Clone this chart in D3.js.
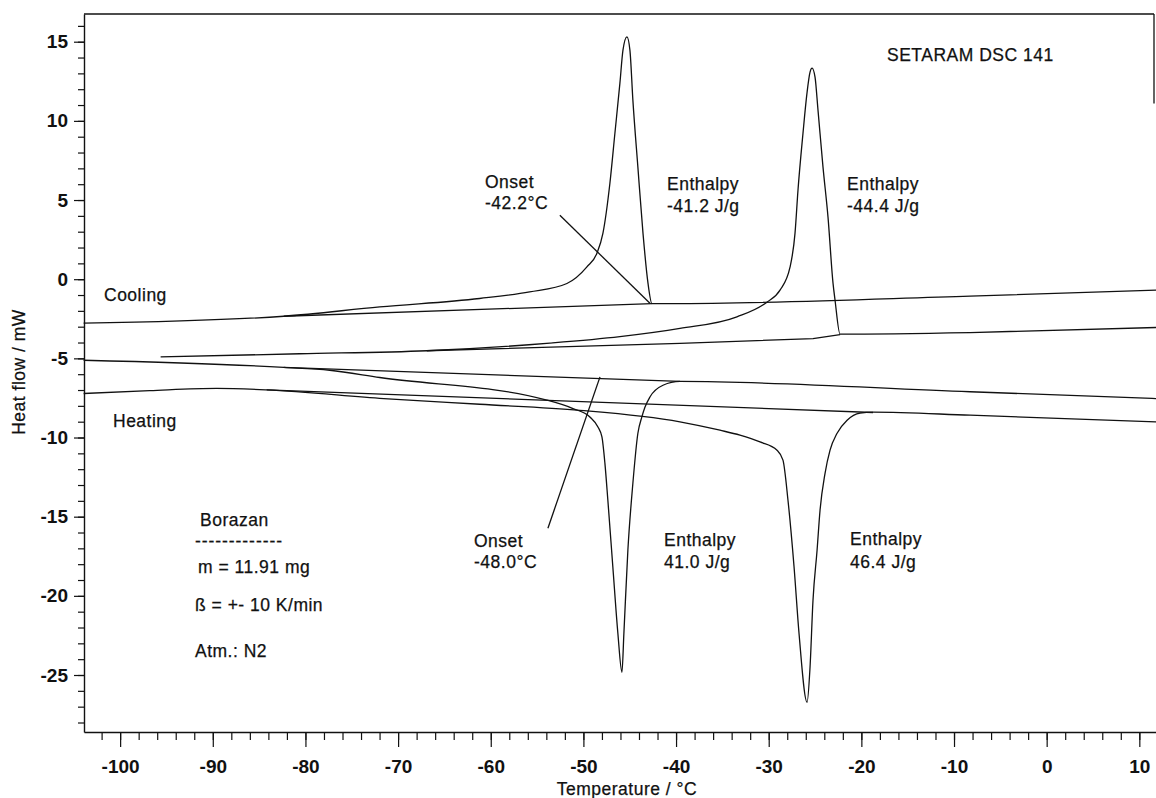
<!DOCTYPE html>
<html>
  <head>
    <meta charset="utf-8">
    <script src="https://d3js.org/d3.v7.min.js"></script>
    <style>
      body { margin: 0; background: #fff; }
      svg text { font-family: "Liberation Sans", Arial, sans-serif; fill: #111; }
      .ann { font-size: 17.5px; letter-spacing: 0.5px; stroke: #111; stroke-width: 0.25px; }
      .tick text { font-size: 19px; font-weight: bold; }
    </style>
  </head>
  <body>
    <div id="chart"></div>
    <script>
      // DSC traces: [temperature °C, heat flow mW]
      // cooling run 1 (exotherm, onset -42.2 °C)
      const coolingA = [
        [-103.94, -2.78], [-82.34, -2.34], [-71.98, -1.75], [-61.2, -1.22], [-55.8, -0.80],
        [-51.78, -0.27], [-49.62, 0.78], [-48.54, 1.64], [-47.89, 2.91], [-47.14, 6.06],
        [-46.60, 9.22], [-46.06, 12.38], [-45.73, 14.47], [-45.30, 15.31], [-44.98, 14.47],
        [-44.66, 11.31], [-44.12, 7.08], [-43.57, 2.91], [-43.03, -0.25], [-42.60, -1.54],
        [-40.66, -1.54], [-8.26, -1.07], [11.83, -0.69]
      ]
      const baselineA = [[-82.34, -2.34], [-42.60, -1.54]]

      // cooling run 2 (exotherm near -25 °C)
      const coolingB = [
        [-95.63, -4.91], [-80.62, -4.71], [-66.90, -4.52], [-53.62, -4.04], [-46.06, -3.63],
        [-39.58, -3.11], [-33.43, -2.38], [-30.19, -1.45], [-28.78, -0.69], [-27.70, 0.76],
        [-27.16, 2.91], [-26.84, 5.62], [-26.30, 9.22], [-25.87, 11.75], [-25.54, 13.08],
        [-25.32, 13.33], [-25.00, 12.76], [-24.68, 10.68], [-24.14, 7.08], [-23.60, 3.92],
        [-23.06, -0.25], [-22.84, -1.33], [-22.30, -3.47], [-8.26, -3.37], [11.83, -3.05]
      ]
      const baselineB = [[-66.90, -4.52], [-39.58, -4.06], [-25.22, -3.75], [-22.30, -3.50]]

      // heating run 1 (endotherm, onset -48.0 °C)
      const heatingC = [
        [-103.94, -5.12], [-82.34, -5.57], [-77.38, -5.75], [-71.98, -6.21], [-53.94, -7.64],
        [-51.13, -8.17], [-49.30, -8.70], [-48.43, -9.33], [-48.00, -9.96], [-47.68, -11.62],
        [-47.36, -13.96], [-46.82, -18.19], [-46.28, -22.36], [-45.84, -24.83], [-45.63, -22.36],
        [-45.20, -17.12], [-44.66, -12.89], [-44.12, -9.73], [-43.69, -8.70], [-43.36, -8.09],
        [-42.82, -7.44], [-41.41, -6.70], [-39.58, -6.46], [-8.26, -7.11], [11.83, -7.54]
      ]
      const baselineC = [[-82.34, -5.57], [-39.58, -6.46]]

      // heating run 2 (endotherm near -26 °C)
      const heatingD = [
        [-103.94, -7.22], [-96.81, -7.04], [-89.58, -6.90], [-84.18, -6.99], [-71.54, -7.54],
        [-61.18, -7.90], [-50.38, -8.28], [-39.58, -9.01], [-35.26, -9.54], [-33.10, -9.85],
        [-30.94, -10.28], [-29.10, -10.80], [-28.46, -11.43], [-27.92, -13.96], [-27.27, -18.13],
        [-26.73, -22.36], [-25.86, -26.72], [-25.54, -24.51], [-25.22, -20.28], [-24.78, -17.12],
        [-24.46, -14.59], [-23.92, -12.26], [-23.38, -10.80], [-22.62, -9.73], [-21.54, -8.91],
        [-20.14, -8.46], [-18.74, -8.40], [-8.26, -8.59], [11.83, -9.01]
      ]
      const baselineD = [[-84.18, -6.99], [-18.74, -8.42]]

      // onset leader lines
      const onsetLeaderA = [[-52.54, 4.04], [-42.82, -1.52]]
      const onsetLeaderC = [[-53.83, -15.73], [-48.21, -6.17]]

      const xMajor = d3.range(-100, 11, 10)
      const xMinor = d3.range(-102, 11, 2)
      const yMajor = d3.range(-25, 16, 5)
      const yMinor = d3.range(-28, 17, 1)

      const xDomain = [-103.9, 11.8]
      const yDomain = [-28.6, 16.75]

      const width = 1156, height = 798
      const margin = {top: 14, right: 0, bottom: 66, left: 84}

      const svg = d3.select('#chart').append('svg')
        .attr('width', width).attr('height', height)

      const x = d3.scaleLinear().domain(xDomain).range([margin.left, width - margin.right])
      const y = d3.scaleLinear().domain(yDomain).range([height - margin.bottom, margin.top])

      const ink = '#111'
      const plain = d => String(d) // keep ascii hyphen as in the original

      // frame: top border and a short right edge, like the scan
      svg.append('line')
        .attr('x1', x(xDomain[0])).attr('x2', x(xDomain[1]) - 2)
        .attr('y1', y(yDomain[1])).attr('y2', y(yDomain[1]))
        .attr('stroke', ink).attr('stroke-width', 1.3)
      svg.append('line')
        .attr('x1', x(xDomain[1]) - 2).attr('x2', x(xDomain[1]) - 2)
        .attr('y1', y(yDomain[1])).attr('y2', y(11.1))
        .attr('stroke', ink).attr('stroke-width', 1.3)

      // axes
      const gx = svg.append('g').attr('transform', `translate(0,${y(yDomain[0])})`)
      gx.call(d3.axisBottom(x).tickValues(xMajor).tickFormat(plain).tickSize(15).tickPadding(13).tickSizeOuter(0))
      gx.append('g').call(d3.axisBottom(x).tickValues(xMinor).tickSize(8).tickFormat('').tickSizeOuter(0))
        .select('.domain').remove()

      const gy = svg.append('g').attr('transform', `translate(${x(xDomain[0])},0)`)
      gy.call(d3.axisLeft(y).tickValues(yMajor).tickFormat(plain).tickSize(10).tickPadding(6).tickSizeOuter(0))
      gy.append('g').call(d3.axisLeft(y).tickValues(yMinor).tickSize(6).tickFormat('').tickSizeOuter(0))
        .select('.domain').remove()

      svg.selectAll('.domain').attr('stroke', ink).attr('stroke-width', 1.4)
      svg.selectAll('.tick line').attr('stroke', ink).attr('stroke-width', 1.2)
      svg.selectAll('.tick text').attr('fill', ink)

      svg.append('text')
        .attr('x', 627).attr('y', 795)
        .attr('text-anchor', 'middle')
        .attr('class', 'ann')
        .text('Temperature / °C')
      svg.append('text')
        .attr('transform', 'translate(25,372) rotate(-90)')
        .attr('text-anchor', 'middle')
        .attr('class', 'ann')
        .text('Heat flow / mW')

      // traces
      const line = d3.line().x(d => x(d[0])).y(d => y(d[1])).curve(d3.curveMonotoneX)
      const straight = d3.line().x(d => x(d[0])).y(d => y(d[1]))
      const traces = [coolingA, coolingB, heatingC, heatingD]
      const guides = [baselineA, baselineB, baselineC, baselineD, onsetLeaderA, onsetLeaderC]

      svg.append('g').selectAll('path').data(traces).join('path')
        .attr('d', line)
        .attr('fill', 'none').attr('stroke', ink).attr('stroke-width', 1.3)
      svg.append('g').selectAll('path').data(guides).join('path')
        .attr('d', straight)
        .attr('fill', 'none').attr('stroke', ink).attr('stroke-width', 1.3)

      // annotations
      const notes = [
        {t: 'SETARAM DSC 141', px: 887, py: 61},
        {t: 'Cooling', px: 104, py: 301},
        {t: 'Heating', px: 113, py: 427},
        {t: 'Onset', px: 485, py: 188},
        {t: '-42.2°C', px: 485, py: 209},
        {t: 'Enthalpy', px: 667, py: 190},
        {t: '-41.2 J/g', px: 667, py: 212},
        {t: 'Enthalpy', px: 847, py: 190},
        {t: '-44.4 J/g', px: 847, py: 212},
        {t: 'Onset', px: 474, py: 547},
        {t: '-48.0°C', px: 474, py: 568},
        {t: 'Enthalpy', px: 664, py: 546},
        {t: '41.0 J/g', px: 664, py: 568},
        {t: 'Enthalpy', px: 850, py: 545},
        {t: '46.4 J/g', px: 850, py: 568},
        {t: 'Borazan', px: 200, py: 526},
        {t: 'm = 11.91 mg', px: 198, py: 573},
        {t: 'ß = +- 10 K/min', px: 195, py: 611},
        {t: 'Atm.: N2', px: 195, py: 657}
      ]
      svg.append('g').selectAll('text').data(notes).join('text')
        .attr('class', 'ann')
        .attr('x', d => d.px).attr('y', d => d.py)
        .text(d => d.t)

      svg.append('text')
        .attr('class', 'ann')
        .attr('x', 195).attr('y', 547)
        .attr('textLength', 87).attr('lengthAdjust', 'spacing')
        .style('letter-spacing', '0px')
        .text('-------------')
    </script>
  </body>
</html>
